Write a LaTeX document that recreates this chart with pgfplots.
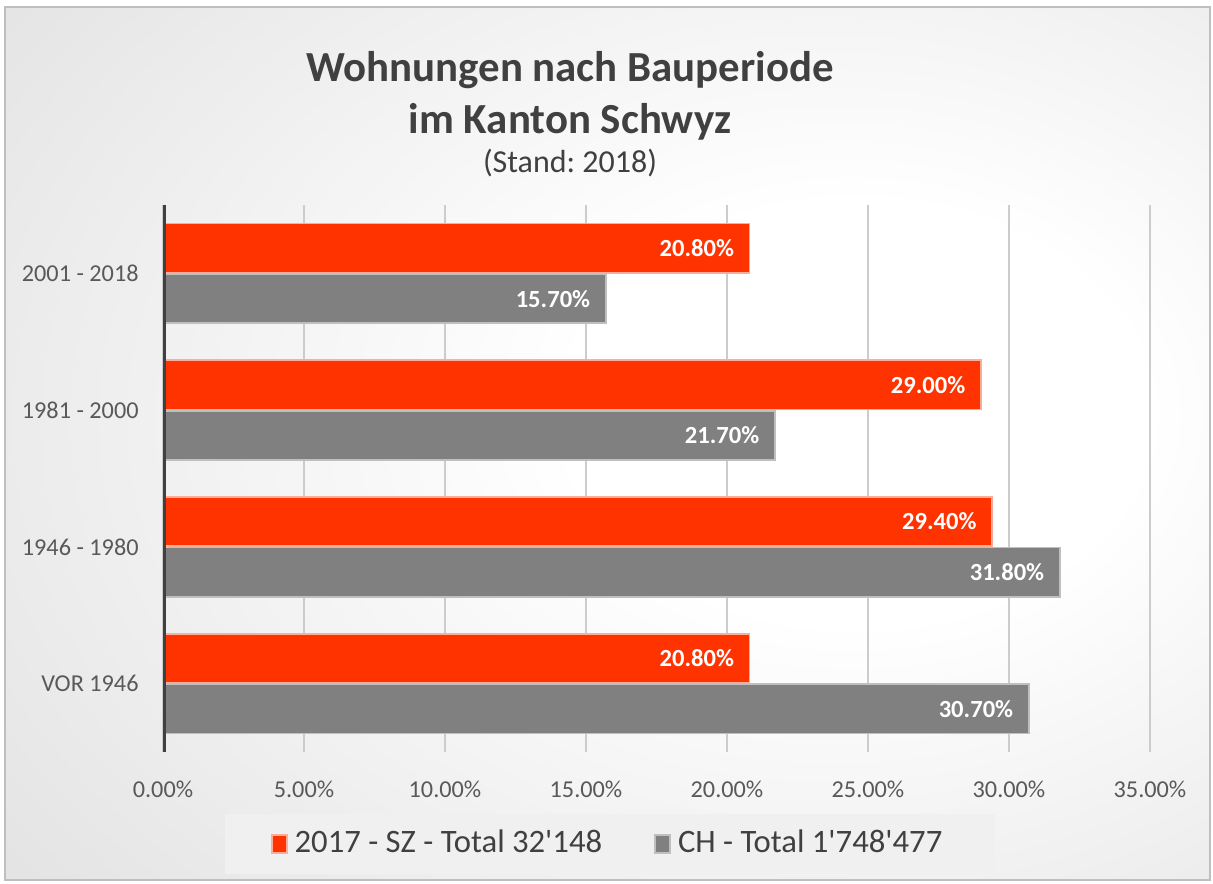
\documentclass[border=0pt]{standalone}
\usepackage{pgfplots}
\pgfplotsset{compat=1.18}
\usepackage{fontspec}
\setmainfont{Carlito}
\definecolor{szred}{RGB}{255,51,0}
\definecolor{chgray}{RGB}{128,128,128}
\definecolor{txt}{RGB}{89,89,89}
\definecolor{ttl}{RGB}{64,64,64}
\pgfdeclareradialshading{bgshade}{\pgfpoint{12bp}{2bp}}{%
  color(0bp)=(white); color(12bp)=(white); color(60bp)=(black!18); color(90bp)=(black!24)}
\begin{document}
\begin{tikzpicture}
\useasboundingbox (0,0) rectangle (12.13cm,8.83cm);
% background of the chart area
\shade[shading=bgshade, draw=black!25, line width=0.6pt] (0.05cm,0.03cm) rectangle (12.10cm,8.76cm);
% titles
\node[font=\bfseries\fontsize{12.2}{14}\selectfont, text=ttl] at (5.70cm,8.13cm) {Wohnungen nach Bauperiode};
\node[font=\bfseries\fontsize{12.2}{14}\selectfont, text=ttl] at (5.70cm,7.61cm) {im Kanton Schwyz};
\node[font=\fontsize{9.1}{11}\selectfont, text=ttl] at (5.70cm,7.20cm) {(Stand:\ 2018)};
\begin{axis}[
  at={(1.63cm,1.31cm)}, anchor=south west,
  scale only axis, width=9.87cm, height=5.47cm,
  xbar, bar width=0.36,
  xmin=0, xmax=35, ymin=-0.5, ymax=3.5, y dir=reverse,
  ytick={0,1,2,3},
  yticklabels={2001 - 2018, 1981 - 2000, 1946 - 1980, VOR 1946},
  xtick={0,5,...,35},
  xticklabel={\pgfmathprintnumber[fixed,fixed zerofill,precision=2]{\tick}\%},
  /pgf/number format/assume math mode=true,
  xmajorgrids, grid style={draw=black!20, line width=0.7pt},
  axis line style={draw=none}, major tick length=0pt,
  tick label style={font=\fontsize{6.9}{8}\selectfont, text=txt},
  yticklabel style={xshift=-1.2mm},
  xticklabel style={yshift=-1.7mm},
  point meta=x,
  nodes near coords={\pgfmathprintnumber[fixed,fixed zerofill,precision=2]{\pgfplotspointmeta}\%},
  every node near coord/.append style={anchor=east, xshift=-0.3mm, text=white, font=\bfseries\fontsize{7}{8}\selectfont},
  legend style={at={(0.453,-0.168)}, anchor=center, legend columns=2,
    fill=black!6, draw=none, font=\fontsize{9.3}{11}\selectfont, text=ttl,
    inner xsep=4.6mm, inner ysep=0.9mm,
    /tikz/every even column/.append style={column sep=4.5mm}},
  legend image code/.code={\fill[#1] (0cm,-0.09cm) rectangle (0.15cm,0.09cm);},
]
\addplot[fill=szred, draw=szred!40!white, line width=0.5pt, bar shift=-0.185] coordinates {
  (20.8,0) (29.0,1) (29.4,2) (20.8,3)
};
\addlegendentry{2017 - SZ - Total 32\textquotesingle 148}
\addplot[fill=chgray, draw=chgray!50!white, line width=0.5pt, bar shift=0.185] coordinates {
  (15.7,0) (21.7,1) (31.8,2) (30.7,3)
};
\addlegendentry{CH - Total 1\textquotesingle 748\textquotesingle 477}
\draw[ttl, line width=1.5pt] (axis cs:0,-0.5) -- (axis cs:0,3.5);
\end{axis}
\end{tikzpicture}
\end{document}
